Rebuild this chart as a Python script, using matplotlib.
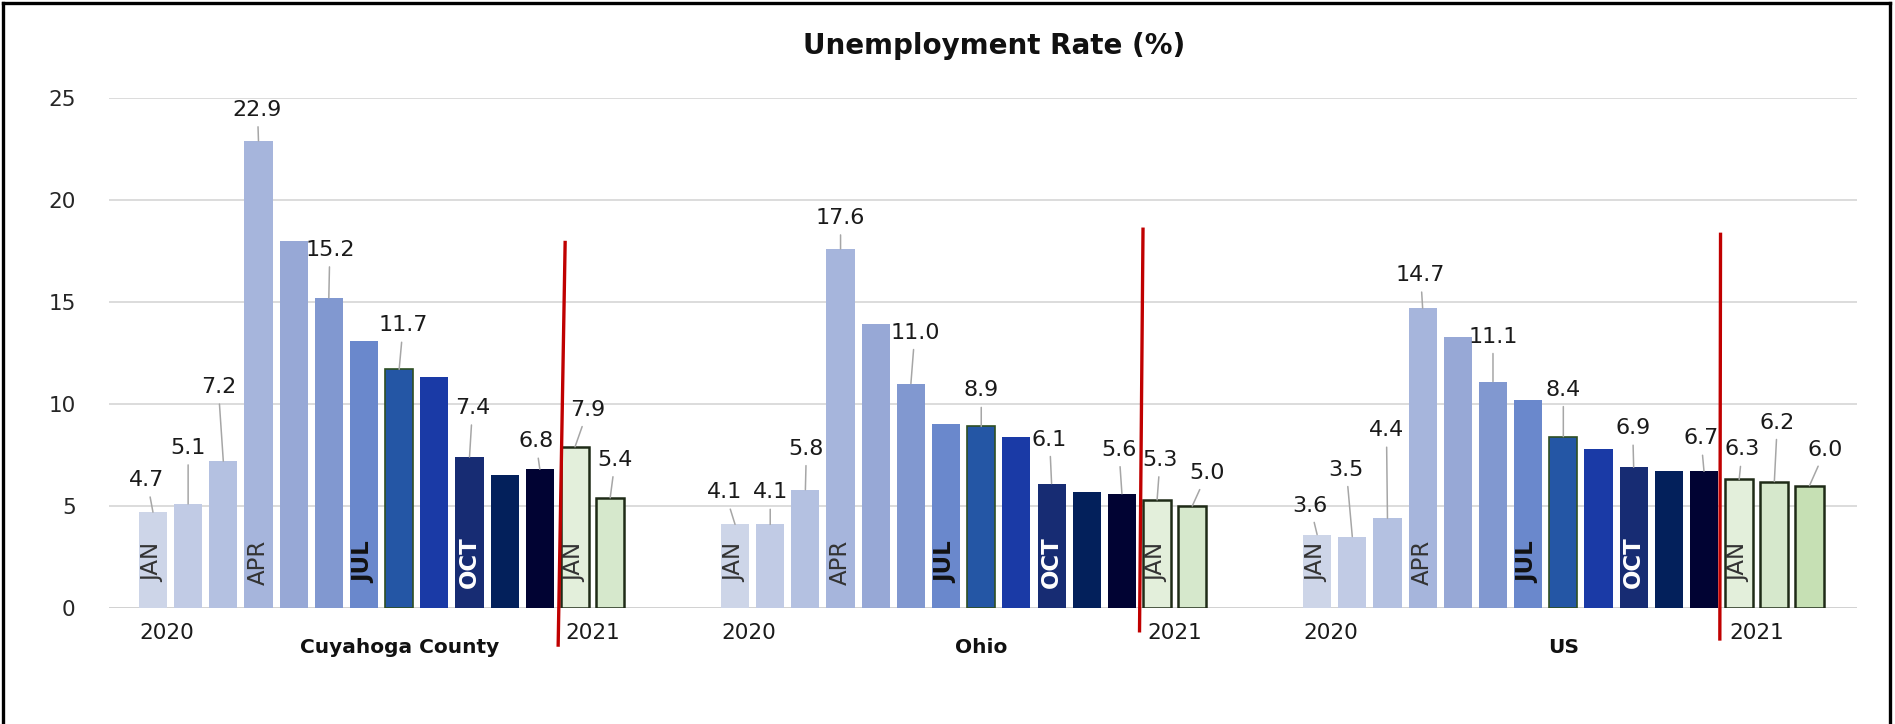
import matplotlib
matplotlib.use("Agg")
import matplotlib.pyplot as plt
from matplotlib.lines import Line2D
import numpy as np

# ---- data ----
groups = ["Cuyahoga County", "Ohio", "US"]
months = ["JAN", "FEB", "MAR", "APR", "MAY", "JUN", "JUL", "AUG", "SEP",
          "OCT", "NOV", "DEC", "JAN", "FEB", "MAR"]
cuyahoga = [4.7, 5.1, 7.2, 22.9, 18.0, 15.2, 13.1, 11.7, 11.3, 7.4, 6.5, 6.8, 7.9, 5.4]
ohio = [4.1, 4.1, 5.8, 17.6, 13.9, 11.0, 9.0, 8.9, 8.4, 6.1, 5.7, 5.6, 5.3, 5.0]
us = [3.6, 3.5, 4.4, 14.7, 13.3, 11.1, 10.2, 8.4, 7.8, 6.9, 6.7, 6.7, 6.3, 6.2, 6.0]
series = [cuyahoga, ohio, us]
years = ["2020", "2021"]

# which month names are written inside bars, which bars carry no value label
named_bars = [0, 3, 6, 9, 12]
no_value_label = [4, 6, 8, 10]

# ---- styling / layout ----
W, H, DPI = 1895, 724, 100
bar_colors = ["#cdd5e8", "#c1cbe5", "#b4c1e1", "#a6b5dc", "#97a8d6", "#8198d0",
              "#6a88cc", "#2456a5", "#1a3aa6", "#172c73", "#03205b", "#010333",
              "#e3efdb", "#d6e8cc", "#c6e0b4"]
edge_colors = ["none"] * 7 + ["#2f4f22"] + ["none"] * 4 + ["#1f2b17"] * 3
edge_widths = [0] * 7 + [1.2] + [0] * 4 + [1.8] * 3
name_colors = {0: "#333333", 3: "#333333", 6: "#111111", 9: "white", 12: "#333333"}
name_weights = {0: "normal", 3: "normal", 6: "bold", 9: "bold", 12: "normal"}

# value label offsets from bar top, in pixels (dx, dy)
label_offsets = [
    [(-6, 32), (0, 56), (-5, 74), (-1, 31), (1, 48), (4, 44), (3, 49), (-4, 28), (13, 37), (5, 38)],
    [(-10, 32), (0, 32), (1, 41), (0, 31), (4, 51), (0, 36), (-2, 44), (-3, 44), (3, 40), (15, 33)],
    [(-7, 29), (-6, 67), (-1, 88), (-2, 33), (0, 45), (0, 47), (-1, 39), (-3, 33), (3, 30), (3, 59), (16, 36)],
]
# red divider lines: (x offset top, x offset bottom, y top, y bottom)
dividers = [(11.72, 11.52, 18.0, -1.9), (11.6, 11.5, 18.65, -1.2), (11.47, 11.45, 18.4, -1.6)]
GROUP_GAP = 2.55
px2pt = 72.0 / DPI

fig = plt.figure(figsize=(W / DPI, H / DPI), dpi=DPI)
fig.patch.set_facecolor("white")
ax = fig.add_axes([109 / W, 1 - 608 / H, (1857 - 109) / W, (608 - 98) / H])
ax.set_xlim(-1.25, 48.45)
ax.set_ylim(0, 25)
ax.set_yticks(range(0, 26, 5))
ax.set_xticks([])
ax.yaxis.grid(True, color="#d9d9d9", lw=1.3)
ax.set_axisbelow(True)
for s in ax.spines.values():
    s.set_visible(False)
ax.axhline(0, color="#d0d0d0", lw=1.8, zorder=1)
ax.tick_params(axis="y", length=0, labelsize=15.5, pad=24, labelcolor="#262626")

start = 0.0
for gi, vals in enumerate(series):
    n = len(vals)
    x = start + np.arange(n)
    ax.bar(x, vals, width=0.8, color=bar_colors[:n], edgecolor=edge_colors[:n],
           linewidth=edge_widths[:n], zorder=2)

    # value labels with leader lines
    k = 0
    for i in range(n):
        if i in no_value_label:
            continue
        dx, dy = label_offsets[gi][k]
        k += 1
        ax.annotate(f"{vals[i]:.1f}", xy=(x[i], vals[i]), xytext=(dx * px2pt, dy * px2pt),
                    textcoords="offset points", ha="center", va="center",
                    fontsize=16, color="#1a1a1a", zorder=4,
                    arrowprops=dict(arrowstyle="-", color="#a6a6a6", lw=1.1,
                                    shrinkA=3, shrinkB=0))

    # month names inside the bars
    for i in named_bars:
        ax.text(x[i], 2.25, months[i], rotation=90, ha="center", va="center",
                fontsize=16.5, color=name_colors[i], fontweight=name_weights[i], zorder=3)

    # year and group labels under the axis
    ax.text(start + 0.4, -1.23, years[0], ha="center", va="center", fontsize=15.5,
            color="#1a1a1a", clip_on=False)
    ax.text(start + 12.5, -1.23, years[1], ha="center", va="center", fontsize=15.5,
            color="#1a1a1a", clip_on=False)
    ax.text(start + 7.0, -1.95, groups[gi], ha="center", va="center", fontsize=14.5,
            fontweight="bold", color="#111111", clip_on=False)

    # red line between 2020 and 2021
    xt, xb, yt, yb = dividers[gi]
    ax.plot([start + xb, start + xt], [yb, yt], color="#c00000", lw=2.4,
            solid_capstyle="butt", clip_on=False, zorder=5)

    start += n + GROUP_GAP

fig.text(994 / W, 1 - 46 / H, "Unemployment Rate (%)", ha="center", va="center",
         fontsize=20, fontweight="bold", color="#111111")

# black frame (open at the bottom, as in the source image)
bx0, bx1, by1 = 3 / W, 1890 / W, 1 - 3 / H
for xs, ys in [([bx0, bx0], [0, by1]), ([bx0, bx1], [by1, by1]), ([bx1, bx1], [by1, 0])]:
    fig.add_artist(Line2D(xs, ys, transform=fig.transFigure, color="black", lw=2.4))

fig.savefig("out.png", dpi=DPI)
